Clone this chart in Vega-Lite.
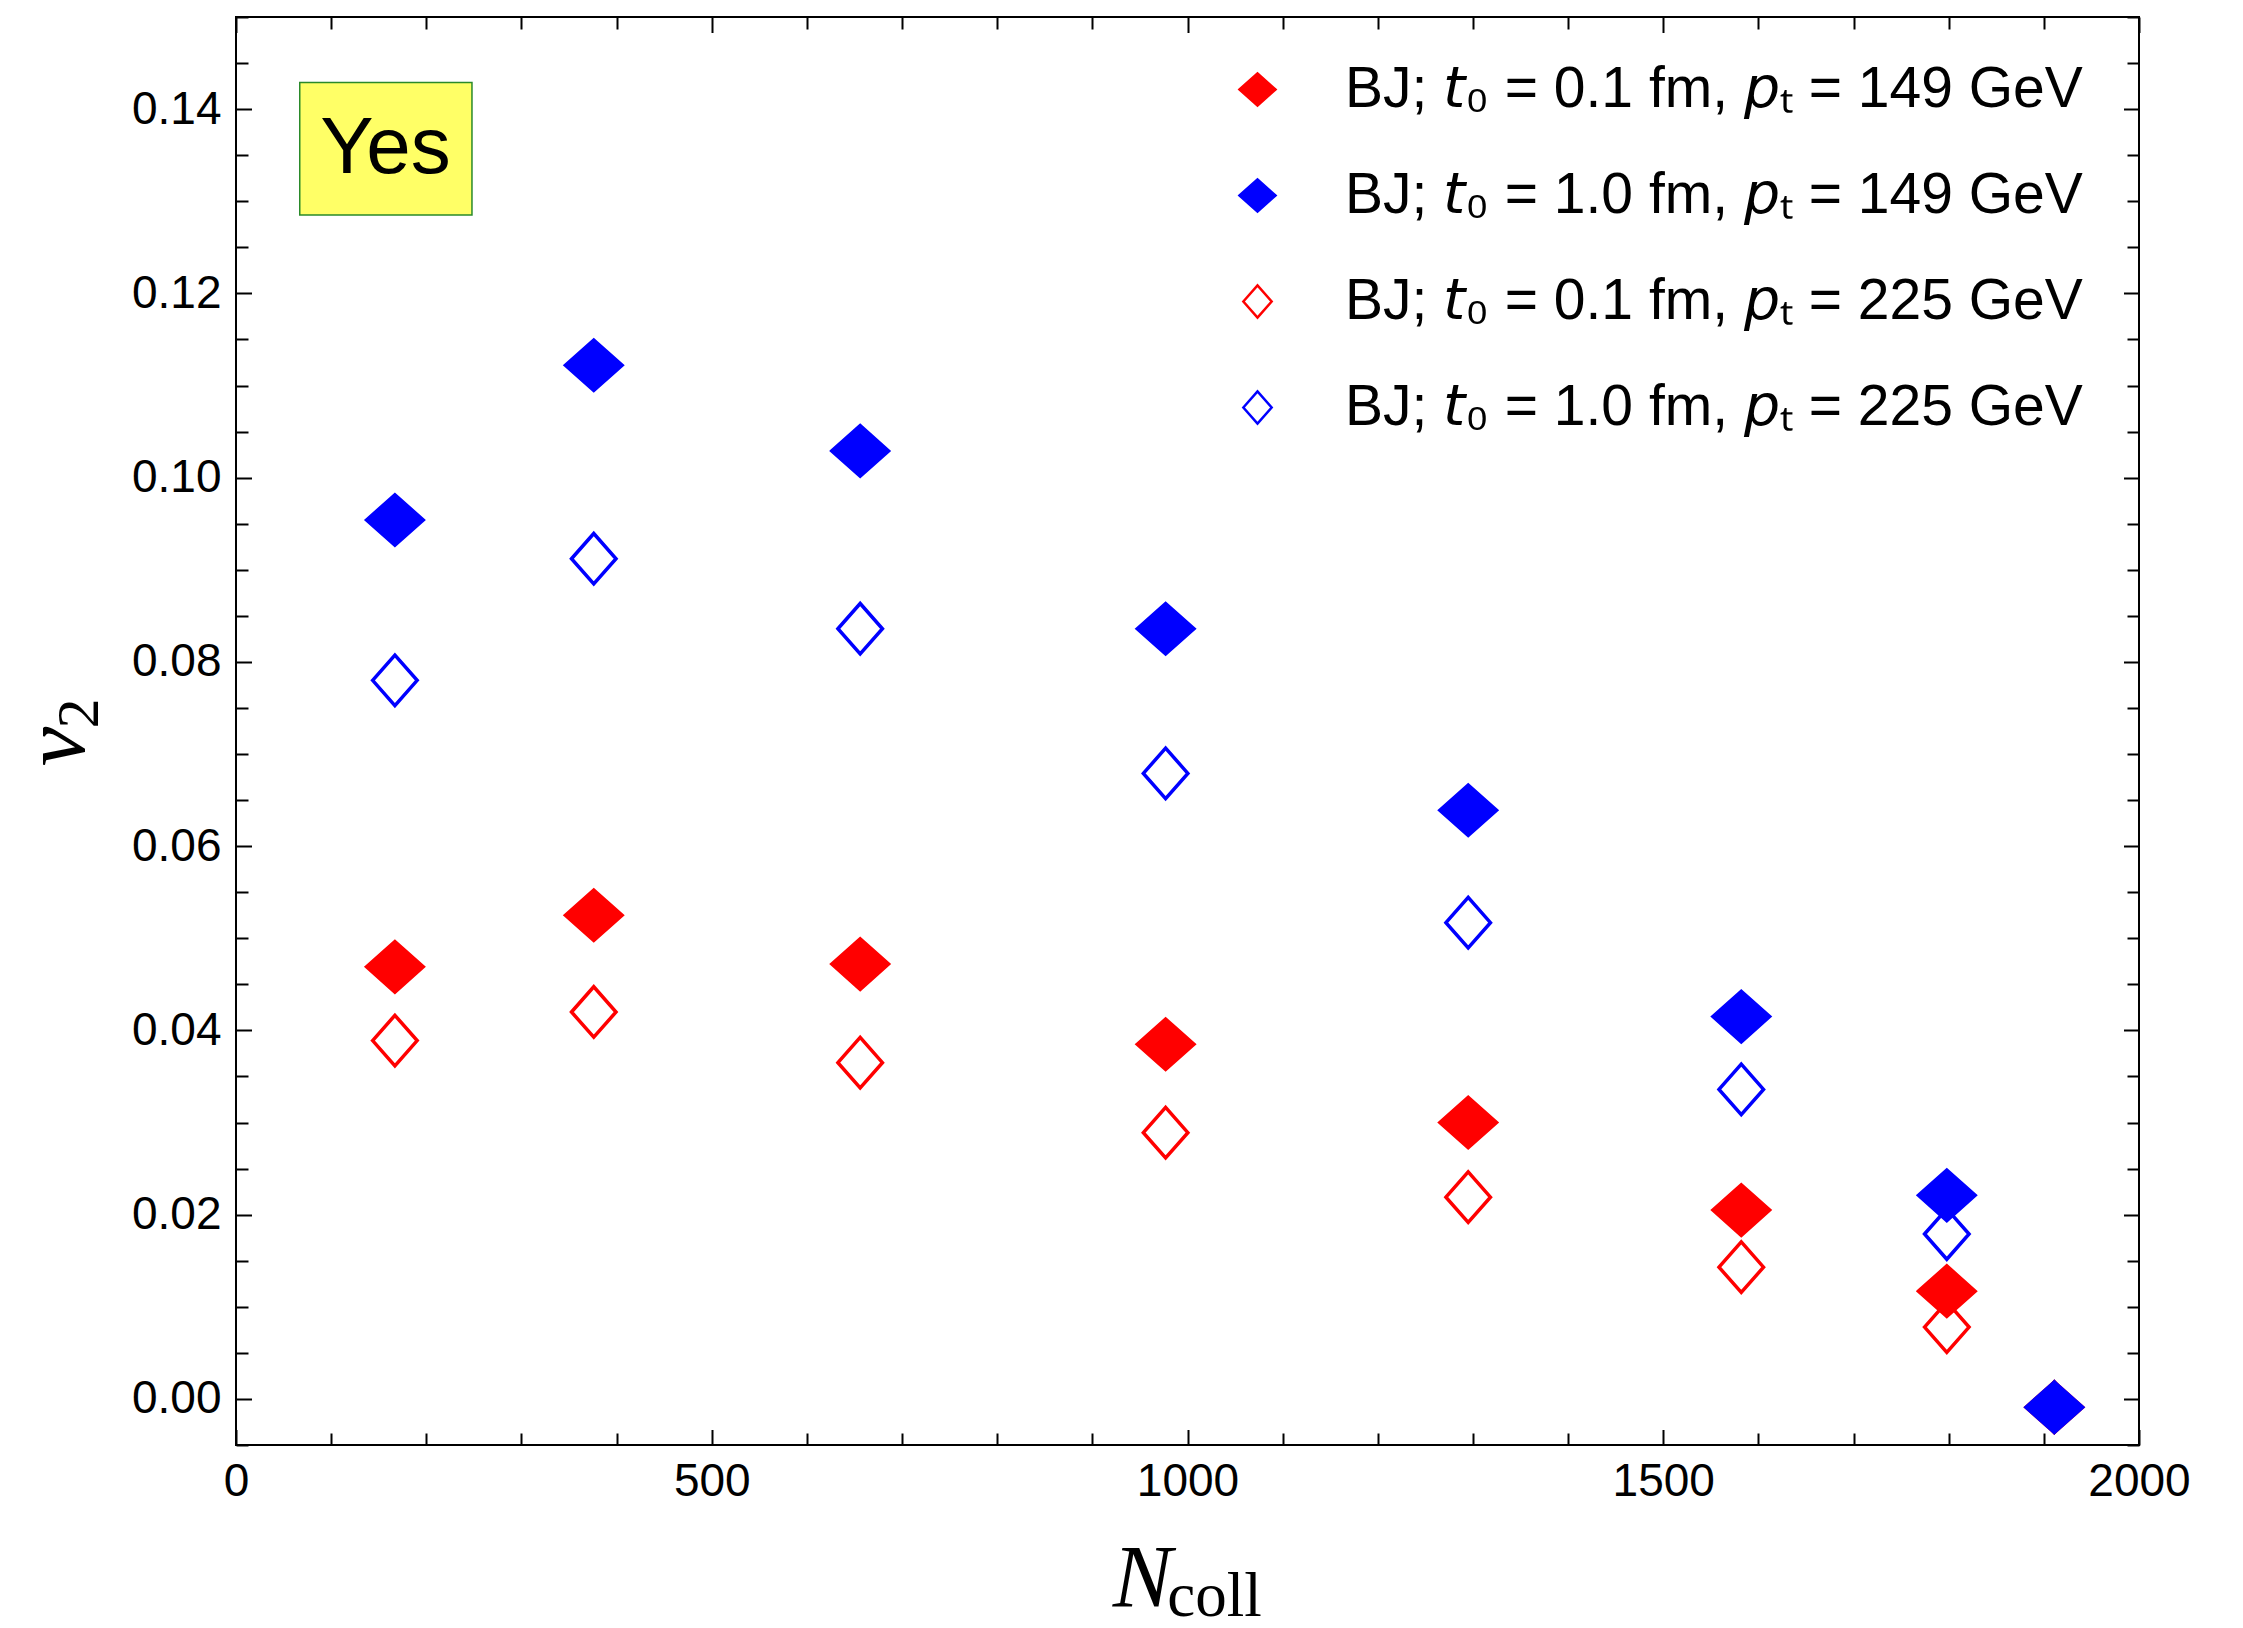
{
  "$schema": "https://vega.github.io/schema/vega-lite/v6.json",
  "autosize": {"type": "none"},
  "padding": {"left": 236, "top": 17, "right": 104, "bottom": 183},
  "width": 1903,
  "height": 1428,
  "background": "white",
  "config": {
    "view": {"stroke": "black", "strokeWidth": 2},
    "axis": {
      "grid": false,
      "domain": false,
      "tickColor": "black",
      "tickWidth": 2,
      "labelColor": "black",
      "labelFont": "Liberation Sans",
      "labelFontSize": 46,
      "labelFlush": false,
      "labelOverlap": false,
      "labelBound": false,
      "titleColor": "black",
      "titleFont": "Liberation Serif",
      "titleFontWeight": "normal",
      "titleAlign": "center",
      "titleBaseline": "alphabetic"
    },
    "legend": {
      "orient": "none",
      "legendX": 993,
      "legendY": 44,
      "padding": 0,
      "labelFont": "Liberation Sans",
      "labelFontSize": 57,
      "labelColor": "black",
      "labelLimit": 0,
      "symbolSize": 1300,
      "symbolStrokeWidth": 2.5,
      "rowPadding": 48,
      "labelOffset": 59
    }
  },
  "datasets": {
    "v2": [
      {"series": "BJ; 𝘵₀ = 0.1 fm, 𝘱ₜ = 225 GeV", "Ncoll": 167, "v2": 0.0389},
      {"series": "BJ; 𝘵₀ = 0.1 fm, 𝘱ₜ = 225 GeV", "Ncoll": 376, "v2": 0.0420},
      {"series": "BJ; 𝘵₀ = 0.1 fm, 𝘱ₜ = 225 GeV", "Ncoll": 656, "v2": 0.0365},
      {"series": "BJ; 𝘵₀ = 0.1 fm, 𝘱ₜ = 225 GeV", "Ncoll": 977, "v2": 0.0289},
      {"series": "BJ; 𝘵₀ = 0.1 fm, 𝘱ₜ = 225 GeV", "Ncoll": 1295, "v2": 0.0219},
      {"series": "BJ; 𝘵₀ = 0.1 fm, 𝘱ₜ = 225 GeV", "Ncoll": 1582, "v2": 0.0143},
      {"series": "BJ; 𝘵₀ = 0.1 fm, 𝘱ₜ = 225 GeV", "Ncoll": 1798, "v2": 0.0078},
      {"series": "BJ; 𝘵₀ = 0.1 fm, 𝘱ₜ = 225 GeV", "Ncoll": 1911, "v2": -0.0009},
      {"series": "BJ; 𝘵₀ = 1.0 fm, 𝘱ₜ = 225 GeV", "Ncoll": 167, "v2": 0.0780},
      {"series": "BJ; 𝘵₀ = 1.0 fm, 𝘱ₜ = 225 GeV", "Ncoll": 376, "v2": 0.0912},
      {"series": "BJ; 𝘵₀ = 1.0 fm, 𝘱ₜ = 225 GeV", "Ncoll": 656, "v2": 0.0836},
      {"series": "BJ; 𝘵₀ = 1.0 fm, 𝘱ₜ = 225 GeV", "Ncoll": 977, "v2": 0.0679},
      {"series": "BJ; 𝘵₀ = 1.0 fm, 𝘱ₜ = 225 GeV", "Ncoll": 1295, "v2": 0.0517},
      {"series": "BJ; 𝘵₀ = 1.0 fm, 𝘱ₜ = 225 GeV", "Ncoll": 1582, "v2": 0.0336},
      {"series": "BJ; 𝘵₀ = 1.0 fm, 𝘱ₜ = 225 GeV", "Ncoll": 1798, "v2": 0.0179},
      {"series": "BJ; 𝘵₀ = 1.0 fm, 𝘱ₜ = 225 GeV", "Ncoll": 1911, "v2": -0.0009},
      {"series": "BJ; 𝘵₀ = 0.1 fm, 𝘱ₜ = 149 GeV", "Ncoll": 167, "v2": 0.0469},
      {"series": "BJ; 𝘵₀ = 0.1 fm, 𝘱ₜ = 149 GeV", "Ncoll": 376, "v2": 0.0525},
      {"series": "BJ; 𝘵₀ = 0.1 fm, 𝘱ₜ = 149 GeV", "Ncoll": 656, "v2": 0.0472},
      {"series": "BJ; 𝘵₀ = 0.1 fm, 𝘱ₜ = 149 GeV", "Ncoll": 977, "v2": 0.0385},
      {"series": "BJ; 𝘵₀ = 0.1 fm, 𝘱ₜ = 149 GeV", "Ncoll": 1295, "v2": 0.0300},
      {"series": "BJ; 𝘵₀ = 0.1 fm, 𝘱ₜ = 149 GeV", "Ncoll": 1582, "v2": 0.0205},
      {"series": "BJ; 𝘵₀ = 0.1 fm, 𝘱ₜ = 149 GeV", "Ncoll": 1798, "v2": 0.0117},
      {"series": "BJ; 𝘵₀ = 0.1 fm, 𝘱ₜ = 149 GeV", "Ncoll": 1911, "v2": -0.0009},
      {"series": "BJ; 𝘵₀ = 1.0 fm, 𝘱ₜ = 149 GeV", "Ncoll": 167, "v2": 0.0954},
      {"series": "BJ; 𝘵₀ = 1.0 fm, 𝘱ₜ = 149 GeV", "Ncoll": 376, "v2": 0.1122},
      {"series": "BJ; 𝘵₀ = 1.0 fm, 𝘱ₜ = 149 GeV", "Ncoll": 656, "v2": 0.1029},
      {"series": "BJ; 𝘵₀ = 1.0 fm, 𝘱ₜ = 149 GeV", "Ncoll": 977, "v2": 0.0836},
      {"series": "BJ; 𝘵₀ = 1.0 fm, 𝘱ₜ = 149 GeV", "Ncoll": 1295, "v2": 0.0639},
      {"series": "BJ; 𝘵₀ = 1.0 fm, 𝘱ₜ = 149 GeV", "Ncoll": 1582, "v2": 0.0415},
      {"series": "BJ; 𝘵₀ = 1.0 fm, 𝘱ₜ = 149 GeV", "Ncoll": 1798, "v2": 0.0221},
      {"series": "BJ; 𝘵₀ = 1.0 fm, 𝘱ₜ = 149 GeV", "Ncoll": 1911, "v2": -0.0009}
    ],
    "tag": [
      {"label": "Yes", "x1": 67, "x2": 248, "y1": 0.1285, "y2": 0.1429, "xc": 157, "yc": 0.1357}
    ]
  },
  "resolve": {"axis": {"x": "independent", "y": "independent"}},
  "layer": [
    {
      "data": {"name": "tag"},
      "mark": {"type": "rect", "fill": "#ffff66", "stroke": "#2a8a2a", "strokeWidth": 1.5},
      "encoding": {
        "x": {
          "field": "x1", "type": "quantitative",
          "scale": {"domain": [0, 2000], "nice": false, "zero": false},
          "axis": {"orient": "bottom", "ticks": false, "labels": false, "title": "coll",
                   "titleFontSize": 63, "titleFontStyle": "normal", "titleX": 978, "titleY": 170}
        },
        "x2": {"field": "x2"},
        "y": {
          "field": "y1", "type": "quantitative",
          "scale": {"domain": [-0.005, 0.15], "nice": false, "zero": false},
          "axis": {"orient": "left", "ticks": false, "labels": false, "title": "2",
                   "titleFontSize": 60, "titleFontStyle": "normal", "titleAngle": 270, "titleX": -139, "titleY": 696}
        },
        "y2": {"field": "y2"}
      }
    },
    {
      "data": {"name": "tag"},
      "mark": {"type": "text", "font": "Liberation Sans", "fontSize": 80, "align": "center", "baseline": "middle", "color": "black"},
      "encoding": {
        "x": {"field": "xc", "type": "quantitative", "axis": null},
        "y": {"field": "yc", "type": "quantitative", "axis": null},
        "text": {"field": "label"}
      }
    },
    {
      "data": {"name": "v2"},
      "mark": {"type": "point", "opacity": 0},
      "encoding": {
        "x": {
          "field": "Ncoll", "type": "quantitative",
          "axis": {
            "orient": "top", "labels": false, "title": null,
            "values": [0, 100, 200, 300, 400, 500, 600, 700, 800, 900, 1000, 1100, 1200, 1300, 1400, 1500, 1600, 1700, 1800, 1900, 2000],
            "tickSize": {"condition": {"test": "datum.value % 500 === 0", "value": -15.5}, "value": -12}
          }
        },
        "y": {
          "field": "v2", "type": "quantitative",
          "axis": {
            "orient": "right", "labels": false, "title": null,
            "values": [-0.005, 0, 0.005, 0.01, 0.015, 0.02, 0.025, 0.03, 0.035, 0.04, 0.045, 0.05, 0.055, 0.06, 0.065, 0.07, 0.075, 0.08, 0.085, 0.09, 0.095, 0.1, 0.105, 0.11, 0.115, 0.12, 0.125, 0.13, 0.135, 0.14, 0.145, 0.15],
            "tickSize": {"condition": {"test": "abs(datum.value * 50 - round(datum.value * 50)) < 1e-6", "value": -15.5}, "value": -12}
          }
        }
      }
    },
    {
      "data": {"name": "v2"},
      "mark": {"type": "point", "filled": true, "opacity": 1, "size": 3215, "strokeWidth": 3.5, "strokeJoin": "miter"},
      "encoding": {
        "x": {
          "field": "Ncoll", "type": "quantitative",
          "axis": {
            "orient": "bottom",
            "values": [0, 100, 200, 300, 400, 500, 600, 700, 800, 900, 1000, 1100, 1200, 1300, 1400, 1500, 1600, 1700, 1800, 1900, 2000],
            "labelExpr": "datum.value % 500 === 0 ? datum.label : ''",
            "format": "d",
            "labelPadding": 29.5,
            "tickSize": {"condition": {"test": "datum.value % 500 === 0", "value": -15.5}, "value": -12},
            "title": "N", "titleFontSize": 89, "titleFontStyle": "italic", "titleX": 906, "titleY": 160
          }
        },
        "y": {
          "field": "v2", "type": "quantitative",
          "axis": {
            "orient": "left",
            "values": [-0.005, 0, 0.005, 0.01, 0.015, 0.02, 0.025, 0.03, 0.035, 0.04, 0.045, 0.05, 0.055, 0.06, 0.065, 0.07, 0.075, 0.08, 0.085, 0.09, 0.095, 0.1, 0.105, 0.11, 0.115, 0.12, 0.125, 0.13, 0.135, 0.14, 0.145, 0.15],
            "labelExpr": "abs(datum.value * 50 - round(datum.value * 50)) < 1e-6 ? format(datum.value, '.2f') : ''",
            "labelPadding": 30.5,
            "tickSize": {"condition": {"test": "abs(datum.value * 50 - round(datum.value * 50)) < 1e-6", "value": -15.5}, "value": -12},
            "title": "v", "titleFontSize": 89, "titleFontStyle": "italic", "titleAngle": 270, "titleX": -153, "titleY": 729
          }
        },
        "fill": {
          "field": "series", "type": "nominal",
          "scale": {
            "domain": ["BJ; 𝘵₀ = 0.1 fm, 𝘱ₜ = 149 GeV", "BJ; 𝘵₀ = 1.0 fm, 𝘱ₜ = 149 GeV", "BJ; 𝘵₀ = 0.1 fm, 𝘱ₜ = 225 GeV", "BJ; 𝘵₀ = 1.0 fm, 𝘱ₜ = 225 GeV"],
            "range": ["#ff0000", "#0000ff", "rgba(255,255,255,0)", "rgba(255,255,255,0)"]
          },
          "legend": {"title": null}
        },
        "stroke": {
          "field": "series", "type": "nominal",
          "scale": {
            "domain": ["BJ; 𝘵₀ = 0.1 fm, 𝘱ₜ = 149 GeV", "BJ; 𝘵₀ = 1.0 fm, 𝘱ₜ = 149 GeV", "BJ; 𝘵₀ = 0.1 fm, 𝘱ₜ = 225 GeV", "BJ; 𝘵₀ = 1.0 fm, 𝘱ₜ = 225 GeV"],
            "range": ["#ff0000", "#0000ff", "#ff0000", "#0000ff"]
          },
          "legend": {"title": null}
        },
        "shape": {
          "field": "series", "type": "nominal",
          "scale": {
            "domain": ["BJ; 𝘵₀ = 0.1 fm, 𝘱ₜ = 149 GeV", "BJ; 𝘵₀ = 1.0 fm, 𝘱ₜ = 149 GeV", "BJ; 𝘵₀ = 0.1 fm, 𝘱ₜ = 225 GeV", "BJ; 𝘵₀ = 1.0 fm, 𝘱ₜ = 225 GeV"],
            "range": ["M-1,0L0,-0.89L1,0L0,0.89Z", "M-1,0L0,-0.89L1,0L0,0.89Z", "M-0.785,0L0,-0.89L0.785,0L0,0.89Z", "M-0.785,0L0,-0.89L0.785,0L0,0.89Z"]
          },
          "legend": {"title": null}
        }
      }
    }
  ]
}
